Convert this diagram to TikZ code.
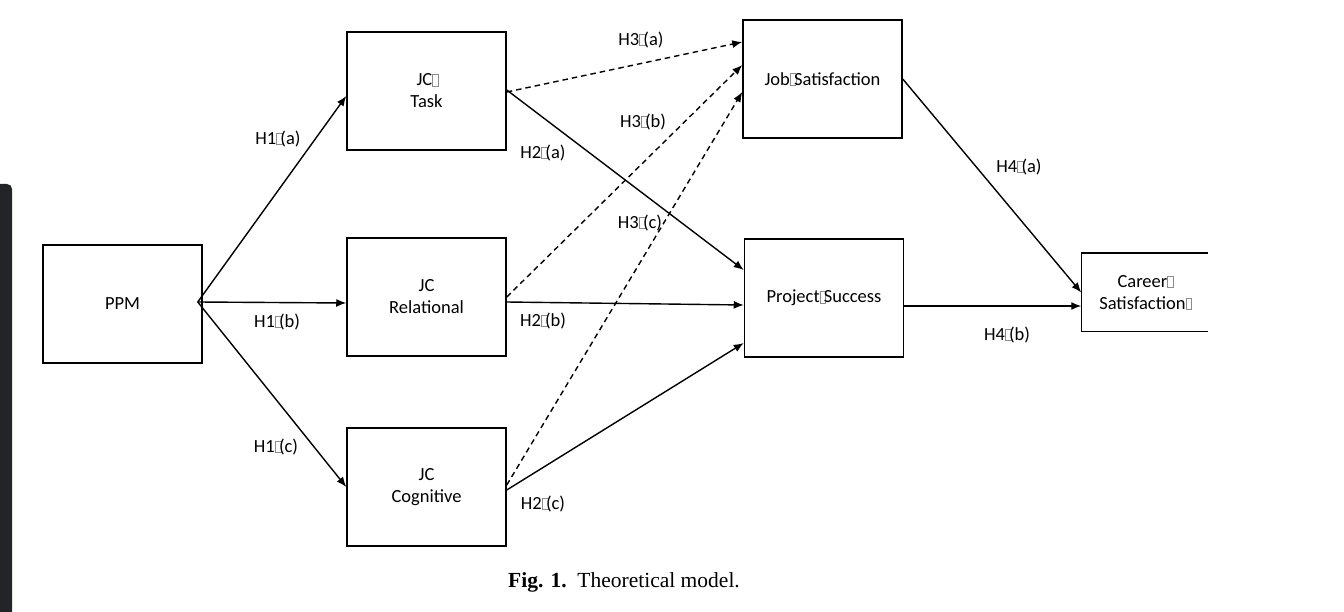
\documentclass[tikz,border=0pt]{standalone}
\usepackage{fontspec}
\setmainfont{Carlito}
\newfontfamily\capfont{Liberation Serif}
\usetikzlibrary{arrows.meta}
\definecolor{sidebar}{HTML}{222427}
% stand-in for the glyphs the figure could not show
\newcommand{\qbox}{{\color{black!45}\setlength{\fboxsep}{0pt}\setlength{\fboxrule}{0.6pt}\fbox{\rule{0pt}{0.6em}\kern0.28em}}\kern-0.12em}

\begin{document}
\begin{tikzpicture}[x=1pt, y=-1pt,
    factor/.style={draw, line width=1.5pt, minimum width=159pt, minimum height=118pt, align=center, inner sep=0pt, font=\fontsize{18.5}{22}\selectfont},
    hyp/.style={inner sep=0pt, font=\fontsize{18.5}{22}\selectfont},
    link/.style={line width=1.4pt, -{Latex[length=10pt,width=8pt]}},
    dlink/.style={link, dash pattern=on 5.5pt off 4pt}]
    \useasboundingbox (0,0) rectangle (1344,612);
    \fill[sidebar, rounded corners=5pt] (-8,184) rectangle (12,630);

    % Nodes
    \node[factor] at (122.5, 304)  (ppm)    {PPM};
    \node[factor] at (426.5, 91)   (task)   {JC\qbox\\Task};
    \node[factor] at (426.5, 297)  (rel)    {JC\\Relational};
    \node[factor] at (426.5, 487)  (cog)    {JC\\Cognitive};
    \node[factor] at (822.5, 79)   (job)    {Job\qbox Satisfaction};
    \node[factor] at (824, 298)    (proj)   {Project\qbox Success};
    \node[factor, draw=none, minimum width=125pt, minimum height=77pt] at (1144.5, 292.5) (career) {Career\qbox\\Satisfaction\qbox};
    \draw[line width=1.5pt] (career.north east) -- (career.north west) -- (career.south west) -- (career.south east);
    \coordinate (ppmout) at ([xshift=-5pt, yshift=2pt]ppm.east);

    % H1
    \draw[link]  (ppmout) -- ([yshift=-5pt]task.west);
    \draw[link]  (ppmout) -- ([yshift=-6pt]rel.west);
    \draw[link]  (ppmout) -- (cog.west);

    % H2
    \draw[link]  ([yshift=1pt]task.east) -- ([yshift=28pt]proj.west);
    \draw[link]  ([yshift=-5pt]rel.east) -- ([yshift=-7pt]proj.west);
    \draw[link]  ([yshift=-3pt]cog.east) -- ([yshift=-45pt]proj.west);

    % H3
    \draw[dlink] ([yshift=-1pt]task.east) -- ([yshift=37pt]job.west);
    \draw[dlink] (rel.east) -- ([yshift=14pt]job.west);
    \draw[dlink] ([yshift=2pt]cog.east) -- ([yshift=-13pt]job.west);

    % H4
    \draw[link]  (job.east) -- (career.west);
    \draw[link]  ([yshift=-8pt]proj.east) -- ([yshift=-13.5pt]career.west);

    % Labels
    \node[hyp] at (278, 139)  (h1a) {H1\qbox(a)};
    \node[hyp] at (277, 322)  (h1b) {H1\qbox(b)};
    \node[hyp] at (276, 447)  (h1c) {H1\qbox(c)};
    \node[hyp] at (543, 153)  (h2a) {H2\qbox(a)};
    \node[hyp] at (543, 321)  (h2b) {H2\qbox(b)};
    \node[hyp] at (543, 504)  (h2c) {H2\qbox(c)};
    \node[hyp] at (641, 40)   (h3a) {H3\qbox(a)};
    \node[hyp] at (643, 122)  (h3b) {H3\qbox(b)};
    \node[hyp] at (640, 223)  (h3c) {H3\qbox(c)};
    \node[hyp] at (1019, 167) (h4a) {H4\qbox(a)};
    \node[hyp] at (1007, 335) (h4b) {H4\qbox(b)};

    \node[inner sep=0pt, font=\capfont\fontsize{21.5}{24}\selectfont] at (624, 582) (caption) {\textbf{Fig. 1.}\hspace{0.5em}Theoretical model.};
\end{tikzpicture}
\end{document}
